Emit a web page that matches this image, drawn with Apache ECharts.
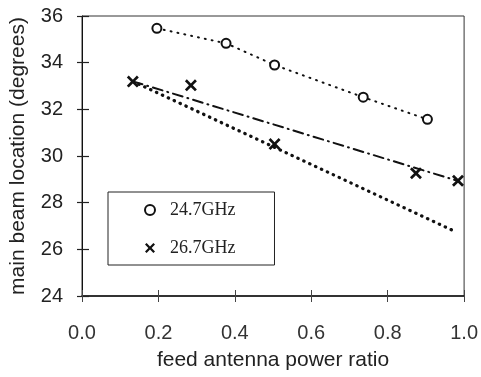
<!DOCTYPE html>
<html>
<head>
<meta charset="utf-8">
<script src="https://cdn.jsdelivr.net/npm/echarts@6/dist/echarts.min.js"></script>
<style>
  html, body { margin: 0; padding: 0; background: #fff; }
  #chart { width: 481px; height: 377px; }
</style>
</head>
<body>
<div id="chart"></div>
<script>
// measured points
const ratio247 = [0.196, 0.377, 0.504, 0.736, 0.904]
const beam247 = [35.47, 34.83, 33.9, 32.52, 31.57]
const ratio267 = [0.133, 0.285, 0.504, 0.874, 0.984]
const beam267 = [33.19, 33.03, 30.51, 29.26, 28.94]

// the two straight curves drawn for 26.7GHz
const dashDotX = [0.133, 0.984]
const dashDotY = [33.2, 28.93]
const dottedX = [0.133, 0.981]
const dottedY = [33.2, 26.73]

const xTicks = [0, 0.2, 0.4, 0.6, 0.8, 1.0]
const yTicks = [24, 26, 28, 30, 32, 34, 36]

const pairs = (xs, ys) => xs.map((x, i) => [x, ys[i]])

const crossPath = 'path://M0,1.6L1.6,0L5,3.4L8.4,0L10,1.6L6.6,5L10,8.4L8.4,10L5,6.6L1.6,10L0,8.4L3.4,5Z'
const ink = '#111'
const txt = '#222'

const chart = echarts.init(document.getElementById('chart'))

const baseX = {
  type: 'value',
  min: xTicks[0],
  max: xTicks[xTicks.length - 1],
  interval: 0.2,
  splitLine: { show: false }
}
const baseY = {
  type: 'value',
  min: yTicks[0],
  max: yTicks[yTicks.length - 1],
  interval: 2,
  splitLine: { show: false }
}

chart.setOption({
  animation: false,
  backgroundColor: '#fff',
  grid: {
    left: 81, right: 15, top: 16, bottom: 81,
    show: true, borderColor: '#333', borderWidth: 1
  },
  legend: {
    orient: 'vertical',
    left: 108, top: 192,
    padding: [9, 39, 8, 36],
    itemWidth: 30, itemHeight: 10,
    itemGap: 20,
    borderColor: '#222', borderWidth: 1,
    textStyle: { fontFamily: 'Liberation Serif', fontSize: 18, color: txt },
    data: ['24.7GHz', '26.7GHz']
  },
  xAxis: [
    {
      ...baseX,
      position: 'bottom',
      name: 'feed antenna power ratio',
      nameLocation: 'middle',
      nameGap: 54,
      nameTextStyle: { fontFamily: 'Liberation Sans', fontSize: 21, color: txt },
      axisLine: { lineStyle: { color: ink, width: 1.5 } },
      axisTick: { inside: false, length: 6, lineStyle: { color: '#444' } },
      axisLabel: {
        margin: 27,
        fontFamily: 'Liberation Sans', fontSize: 20, color: '#333',
        formatter: v => v.toFixed(1)
      }
    },
    {
      ...baseX,
      position: 'bottom',
      axisLine: { show: false },
      axisTick: { inside: true, length: 6, lineStyle: { color: '#444' } },
      axisLabel: { show: false }
    }
  ],
  yAxis: [
    {
      ...baseY,
      position: 'left',
      name: 'main beam location (degrees)',
      nameLocation: 'middle',
      nameGap: 53,
      nameTextStyle: { fontFamily: 'Liberation Sans', fontSize: 21, color: txt },
      axisLine: { lineStyle: { color: ink, width: 1 } },
      axisTick: { inside: false, length: 5, lineStyle: { color: '#222', width: 1.2 } },
      axisLabel: {
        margin: 19,
        fontFamily: 'Liberation Sans', fontSize: 20, color: txt
      }
    },
    {
      ...baseY,
      position: 'left',
      axisLine: { show: false },
      axisTick: { inside: true, length: 7, lineStyle: { color: '#222', width: 1.2 } },
      axisLabel: { show: false }
    }
  ],
  series: [
    {
      type: 'line',
      data: pairs(ratio247, beam247),
      symbol: 'none',
      silent: true,
      lineStyle: { color: ink, width: 2, type: [1, 6], cap: 'round' },
      z: 2
    },
    {
      type: 'line',
      data: pairs(dashDotX, dashDotY),
      symbol: 'none',
      silent: true,
      lineStyle: { color: ink, width: 2, type: [10, 5, 1, 5], cap: 'round' },
      z: 2
    },
    {
      type: 'line',
      data: pairs(dottedX, dottedY),
      symbol: 'none',
      silent: true,
      lineStyle: { color: ink, width: 3.2, type: [0.5, 6], cap: 'round' },
      z: 2
    },
    {
      name: '24.7GHz',
      type: 'scatter',
      data: pairs(ratio247, beam247),
      symbol: 'emptyCircle',
      symbolSize: 9,
      itemStyle: { color: ink, borderColor: ink, borderWidth: 2.2, opacity: 1 },
      z: 3
    },
    {
      name: '26.7GHz',
      type: 'scatter',
      data: pairs(ratio267, beam267),
      symbol: crossPath,
      symbolKeepAspect: true,
      symbolSize: 12,
      itemStyle: { color: ink, opacity: 1 },
      z: 3
    }
  ]
})
</script>
</body>
</html>
